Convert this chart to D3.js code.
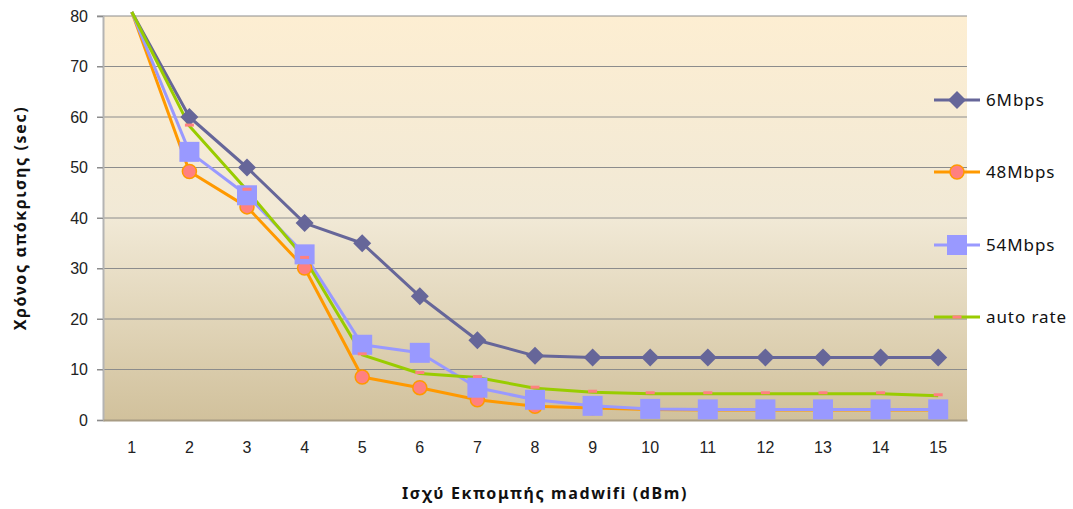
<!DOCTYPE html>
<html lang="el">
<head>
<meta charset="UTF-8">
<title>Χρόνος απόκρισης</title>
<style>
    body { margin: 0; padding: 0; background: #ffffff; font-family: "Noto Sans", "Open Sans", sans-serif; }
    .tick text { font-size: 16px; fill: #222; }
    .legend-label { font-size: 17px; fill: #111; letter-spacing: 0.9px; }
    .axis-title { font-size: 16px; font-weight: bold; fill: #111; letter-spacing: 1.6px; }
</style>
</head>
<body>
<svg id="chart" width="1073" height="509"></svg>
<script src="https://cdnjs.cloudflare.com/ajax/libs/d3/7.8.5/d3.min.js"></script>
<script>
// categories (transmit power, dBm)
const categories = [1, 2, 3, 4, 5, 6, 7, 8, 9, 10, 11, 12, 13, 14, 15];
const yTicks = [0, 10, 20, 30, 40, 50, 60, 70, 80];

// response time (sec) per series
const mbps6    = [80.8, 60, 50, 39, 35, 24.5, 15.8, 12.7, 12.4, 12.4, 12.4, 12.4, 12.4, 12.4, 12.4];
const mbps48   = [80.8, 49.2, 42.2, 30.1, 8.5, 6.4, 4.0, 2.7, 2.4, 2.1, 2.0, 2.0, 2.0, 2.0, 2.0];
const mbps54   = [80.8, 53.1, 44.5, 32.8, 14.9, 13.3, 6.4, 4.0, 2.8, 2.2, 2.1, 2.1, 2.1, 2.1, 2.1];
const autoRate = [80.8, 58.2, 45.5, 32.0, 12.9, 9.2, 8.4, 6.3, 5.5, 5.2, 5.2, 5.2, 5.2, 5.2, 4.8];

const series = [
    { name: '6Mbps',     values: mbps6,    line: '#666699', marker: 'diamond' },
    { name: '48Mbps',    values: mbps48,   line: '#FF9900', marker: 'circle' },
    { name: '54Mbps',    values: mbps54,   line: '#9999FF', marker: 'square' },
    { name: 'auto rate', values: autoRate, line: '#99CC00', marker: 'dash' }
];

const svg = d3.select('#chart');
const plot = { left: 103, top: 16, right: 967, bottom: 420 };

const x = d3.scaleBand().domain(categories).range([plot.left, plot.right]);
const y = d3.scaleLinear().domain([0, 80]).range([plot.bottom, plot.top]);
const cx = d => x(d) + x.bandwidth() / 2;

// background gradient
const defs = svg.append('defs');
const grad = defs.append('linearGradient').attr('id', 'bg')
    .attr('x1', 0).attr('y1', 0).attr('x2', 0).attr('y2', 1);
grad.append('stop').attr('offset', '0%').attr('stop-color', '#FDEED2');
grad.append('stop').attr('offset', '50%').attr('stop-color', '#F1E9D6');
grad.append('stop').attr('offset', '100%').attr('stop-color', '#D1C19C');

svg.append('rect')
    .attr('x', plot.left).attr('y', plot.top)
    .attr('width', plot.right - plot.left).attr('height', plot.bottom - plot.top)
    .attr('fill', 'url(#bg)');

// gridlines
svg.append('g')
    .selectAll('line')
    .data(yTicks.filter(t => t > 0))
    .join('line')
    .attr('x1', plot.left - 6).attr('x2', plot.right)
    .attr('y1', d => y(d)).attr('y2', d => y(d))
    .attr('stroke', '#8c8c8c').attr('stroke-width', 1);

// y axis
const yAxis = svg.append('g')
    .attr('transform', `translate(${plot.left},0)`)
    .call(d3.axisLeft(y).tickValues(yTicks).tickSize(6).tickPadding(9));
yAxis.select('.domain').attr('stroke', '#b4b4b4').attr('stroke-width', 2);
yAxis.selectAll('.tick line').attr('stroke', '#8c8c8c');

// x axis
const xAxis = svg.append('g')
    .attr('transform', `translate(0,${plot.bottom})`)
    .call(d3.axisBottom(x).tickSize(0).tickPadding(22));
xAxis.select('.domain').attr('stroke', '#a89c84').attr('stroke-width', 2);

// lines
const line = d3.line().x((d, i) => cx(categories[i])).y(d => y(d));

series.forEach(s => {
    svg.append('path')
        .datum(s.values)
        .attr('fill', 'none')
        .attr('stroke', s.line)
        .attr('stroke-width', 3)
        .attr('stroke-linejoin', 'round')
        .attr('d', line);
});

function drawMarker(g, type, px, py) {
    if (type === 'diamond') {
        g.append('path')
            .attr('d', `M${px},${py - 9}L${px + 9},${py}L${px},${py + 9}L${px - 9},${py}Z`)
            .attr('fill', '#666699');
    } else if (type === 'circle') {
        g.append('circle')
            .attr('cx', px).attr('cy', py).attr('r', 7)
            .attr('fill', '#FF8080').attr('stroke', '#FF9900').attr('stroke-width', 1.5);
    } else if (type === 'square') {
        g.append('rect')
            .attr('x', px - 10).attr('y', py - 10).attr('width', 20).attr('height', 20)
            .attr('fill', '#9999FF');
    } else if (type === 'dash') {
        g.append('rect')
            .attr('x', px - 4.5).attr('y', py - 2.5).attr('width', 9).attr('height', 3)
            .attr('fill', '#FF8080');
    }
}

// markers (points above axis maximum are not marked)
series.forEach(s => {
    const g = svg.append('g');
    s.values.forEach((v, i) => {
        if (v > 80) return;
        drawMarker(g, s.marker, cx(categories[i]), y(v));
    });
});

// legend
const legendY = [100, 172, 245, 317];
series.forEach((s, i) => {
    const g = svg.append('g').attr('transform', `translate(934,${legendY[i]})`);
    g.append('line').attr('x1', 0).attr('x2', 46).attr('y1', 0).attr('y2', 0)
        .attr('stroke', s.line).attr('stroke-width', 3);
    drawMarker(g, s.marker, 23, s.marker === 'dash' ? 1 : 0);
    g.append('text').attr('class', 'legend-label')
        .attr('x', 52).attr('y', 6).text(s.name);
});

// axis titles
svg.append('text').attr('class', 'axis-title')
    .attr('text-anchor', 'middle')
    .attr('transform', `translate(26,${(plot.top + plot.bottom) / 2}) rotate(-90)`)
    .text('Χρόνος απόκρισης (sec)');

svg.append('text').attr('class', 'axis-title')
    .attr('text-anchor', 'middle')
    .attr('x', 545).attr('y', 499)
    .text('Ισχύ Εκπομπής madwifi (dBm)');
</script>
</body>
</html>
